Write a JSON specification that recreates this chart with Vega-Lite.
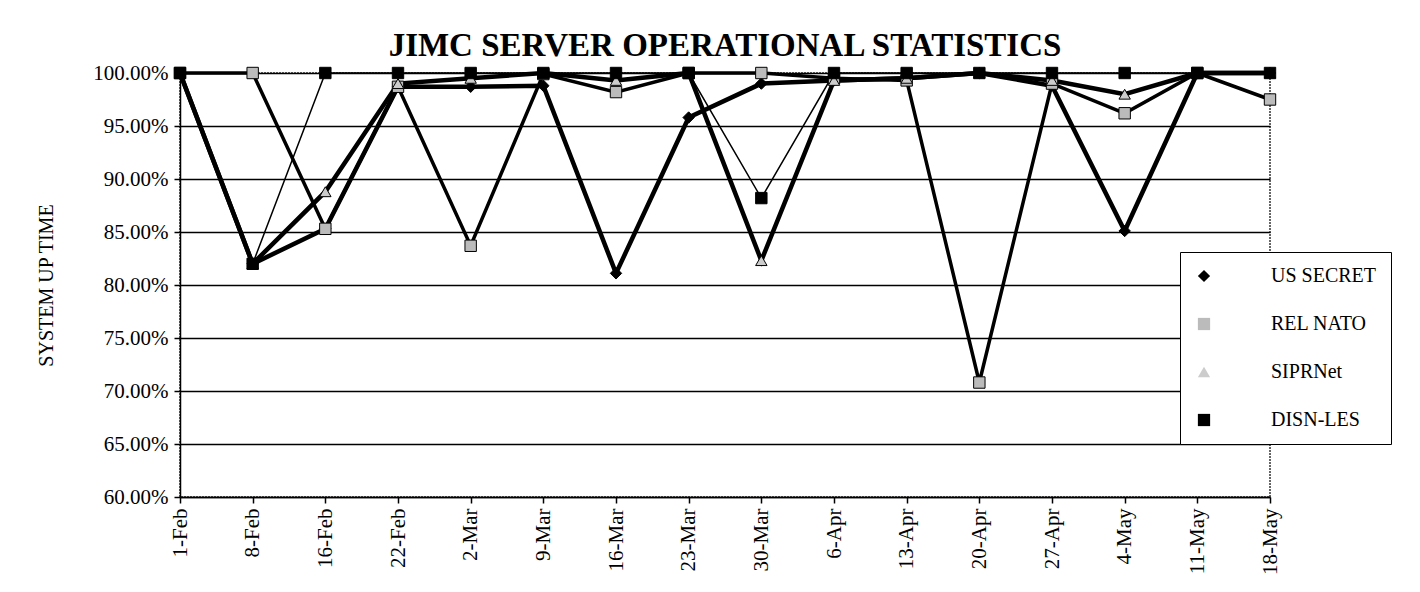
{
  "$schema": "https://vega.github.io/schema/vega-lite/v6.json",
  "width": 1090,
  "height": 424,
  "autosize": {"type": "none"},
  "padding": {"left": 180, "top": 73, "right": 150, "bottom": 95},
  "background": "white",
  "title": {
    "text": "JIMC SERVER OPERATIONAL STATISTICS",
    "font": "Liberation Serif",
    "fontSize": 33,
    "fontWeight": "bold",
    "color": "black",
    "anchor": "middle",
    "offset": -1
  },
  "data": {
    "values": [
      {"d": "1-Feb", "s": "US SECRET", "v": 1.0},
      {"d": "8-Feb", "s": "US SECRET", "v": 0.82},
      {"d": "16-Feb", "s": "US SECRET", "v": 0.853},
      {"d": "22-Feb", "s": "US SECRET", "v": 0.987},
      {"d": "2-Mar", "s": "US SECRET", "v": 0.987},
      {"d": "9-Mar", "s": "US SECRET", "v": 0.988},
      {"d": "16-Mar", "s": "US SECRET", "v": 0.811},
      {"d": "23-Mar", "s": "US SECRET", "v": 0.958},
      {"d": "30-Mar", "s": "US SECRET", "v": 0.99},
      {"d": "6-Apr", "s": "US SECRET", "v": 0.993},
      {"d": "13-Apr", "s": "US SECRET", "v": 0.995},
      {"d": "20-Apr", "s": "US SECRET", "v": 1.0},
      {"d": "27-Apr", "s": "US SECRET", "v": 0.988},
      {"d": "4-May", "s": "US SECRET", "v": 0.851},
      {"d": "11-May", "s": "US SECRET", "v": 1.0},
      {"d": "18-May", "s": "US SECRET", "v": 1.0},
      {"d": "1-Feb", "s": "REL NATO", "v": 1.0},
      {"d": "8-Feb", "s": "REL NATO", "v": 1.0},
      {"d": "16-Feb", "s": "REL NATO", "v": 0.853},
      {"d": "22-Feb", "s": "REL NATO", "v": 0.987},
      {"d": "2-Mar", "s": "REL NATO", "v": 0.837},
      {"d": "9-Mar", "s": "REL NATO", "v": 0.999},
      {"d": "16-Mar", "s": "REL NATO", "v": 0.982},
      {"d": "23-Mar", "s": "REL NATO", "v": 1.0},
      {"d": "30-Mar", "s": "REL NATO", "v": 1.0},
      {"d": "6-Apr", "s": "REL NATO", "v": 0.995},
      {"d": "13-Apr", "s": "REL NATO", "v": 0.993},
      {"d": "20-Apr", "s": "REL NATO", "v": 0.708},
      {"d": "27-Apr", "s": "REL NATO", "v": 0.99},
      {"d": "4-May", "s": "REL NATO", "v": 0.962},
      {"d": "11-May", "s": "REL NATO", "v": 1.0},
      {"d": "18-May", "s": "REL NATO", "v": 0.975},
      {"d": "1-Feb", "s": "SIPRNet", "v": 1.0},
      {"d": "8-Feb", "s": "SIPRNet", "v": 0.82},
      {"d": "16-Feb", "s": "SIPRNet", "v": 0.888},
      {"d": "22-Feb", "s": "SIPRNet", "v": 0.99},
      {"d": "2-Mar", "s": "SIPRNet", "v": 0.995},
      {"d": "9-Mar", "s": "SIPRNet", "v": 1.0},
      {"d": "16-Mar", "s": "SIPRNet", "v": 0.993},
      {"d": "23-Mar", "s": "SIPRNet", "v": 1.0},
      {"d": "30-Mar", "s": "SIPRNet", "v": 0.823},
      {"d": "6-Apr", "s": "SIPRNet", "v": 0.993},
      {"d": "13-Apr", "s": "SIPRNet", "v": 0.995},
      {"d": "20-Apr", "s": "SIPRNet", "v": 1.0},
      {"d": "27-Apr", "s": "SIPRNet", "v": 0.993},
      {"d": "4-May", "s": "SIPRNet", "v": 0.98},
      {"d": "11-May", "s": "SIPRNet", "v": 1.0},
      {"d": "18-May", "s": "SIPRNet", "v": 1.0},
      {"d": "1-Feb", "s": "DISN-LES", "v": 1.0},
      {"d": "8-Feb", "s": "DISN-LES", "v": 0.82},
      {"d": "16-Feb", "s": "DISN-LES", "v": 1.0},
      {"d": "22-Feb", "s": "DISN-LES", "v": 1.0},
      {"d": "2-Mar", "s": "DISN-LES", "v": 1.0},
      {"d": "9-Mar", "s": "DISN-LES", "v": 1.0},
      {"d": "16-Mar", "s": "DISN-LES", "v": 1.0},
      {"d": "23-Mar", "s": "DISN-LES", "v": 1.0},
      {"d": "30-Mar", "s": "DISN-LES", "v": 0.882},
      {"d": "6-Apr", "s": "DISN-LES", "v": 1.0},
      {"d": "13-Apr", "s": "DISN-LES", "v": 1.0},
      {"d": "20-Apr", "s": "DISN-LES", "v": 1.0},
      {"d": "27-Apr", "s": "DISN-LES", "v": 1.0},
      {"d": "4-May", "s": "DISN-LES", "v": 1.0},
      {"d": "11-May", "s": "DISN-LES", "v": 1.0},
      {"d": "18-May", "s": "DISN-LES", "v": 1.0}
    ]
  },
  "encoding": {
    "x": {
      "field": "d",
      "type": "ordinal",
      "sort": ["1-Feb","8-Feb","16-Feb","22-Feb","2-Mar","9-Mar","16-Mar","23-Mar","30-Mar","6-Apr","13-Apr","20-Apr","27-Apr","4-May","11-May","18-May"],
      "scale": {"type": "point", "padding": 0},
      "axis": {
        "title": null,
        "labelAngle": -90,
        "labelFont": "Liberation Serif",
        "labelFontSize": 21,
        "labelColor": "black",
        "labelPadding": 5,
        "tickColor": "black",
        "tickSize": 6,
        "tickWidth": 1.5,
        "domainColor": "black",
        "domainWidth": 1.5,
        "grid": false
      }
    },
    "y": {
      "field": "v",
      "type": "quantitative",
      "scale": {"domain": [0.6, 1.0], "nice": false, "zero": false},
      "axis": {
        "title": "SYSTEM UP TIME",
        "titleFont": "Liberation Serif",
        "titleFontSize": 20,
        "titleFontWeight": "normal",
        "titleColor": "black",
        "titlePadding": 36,
        "values": [0.6, 0.65, 0.7, 0.75, 0.8, 0.85, 0.9, 0.95, 1.0],
        "format": ".2%",
        "labelFont": "Liberation Serif",
        "labelFontSize": 21,
        "labelColor": "black",
        "labelPadding": 6,
        "tickColor": "black",
        "tickSize": 6,
        "tickWidth": 1.5,
        "domainColor": "black",
        "domainWidth": 1.5,
        "grid": true,
        "gridColor": "black",
        "gridWidth": 1.5,
        "gridOpacity": 1
      }
    }
  },
  "layer": [
    {
      "transform": [{"filter": "datum.s === 'US SECRET'"}],
      "mark": {"type": "line", "color": "black", "strokeWidth": 4.5, "strokeJoin": "miter"},
      "encoding": {}
    },
    {
      "transform": [{"filter": "datum.s === 'REL NATO'"}],
      "mark": {"type": "line", "color": "black", "strokeWidth": 3.5, "strokeJoin": "miter"},
      "encoding": {}
    },
    {
      "transform": [{"filter": "datum.s === 'SIPRNet'"}],
      "mark": {"type": "line", "color": "black", "strokeWidth": 4.5, "strokeJoin": "miter"},
      "encoding": {}
    },
    {
      "transform": [{"filter": "datum.s === 'DISN-LES'"}],
      "mark": {"type": "line", "color": "black", "strokeWidth": 1.5, "strokeJoin": "miter"},
      "encoding": {}
    },
    {
      "mark": {"type": "point", "filled": true, "strokeWidth": 1, "opacity": 1, "size": 130},
      "encoding": {
        "stroke": {"value": "black"},
        "shape": {
          "field": "s",
          "type": "nominal",
          "scale": {"domain": ["US SECRET", "REL NATO", "SIPRNet", "DISN-LES"], "range": ["diamond", "square", "triangle-up", "square"]},
          "legend": {
            "title": null,
            "orient": "none",
            "legendX": 1000,
            "legendY": 179,
            "strokeColor": "black",
            "fillColor": "white",
            "padding": 14,
            "symbolSize": 150,
            "symbolStrokeColor": "black",
            "symbolStrokeWidth": 1.5,
            "symbolOpacity": 1,
            "rowPadding": 28,
            "labelOffset": 57,
            "labelFont": "Liberation Serif",
            "labelFontSize": 20,
            "labelColor": "black",
            "labelLimit": 300
          }
        },
        "fill": {
          "field": "s",
          "type": "nominal",
          "scale": {"domain": ["US SECRET", "REL NATO", "SIPRNet", "DISN-LES"], "range": ["black", "#bbbbbb", "#cccccc", "black"]}
        }
      }
    }
  ],
  "config": {
    "font": "Liberation Serif",
    "view": {"stroke": "#333333", "strokeWidth": 1.5, "strokeDash": [2, 1]}
  }
}
